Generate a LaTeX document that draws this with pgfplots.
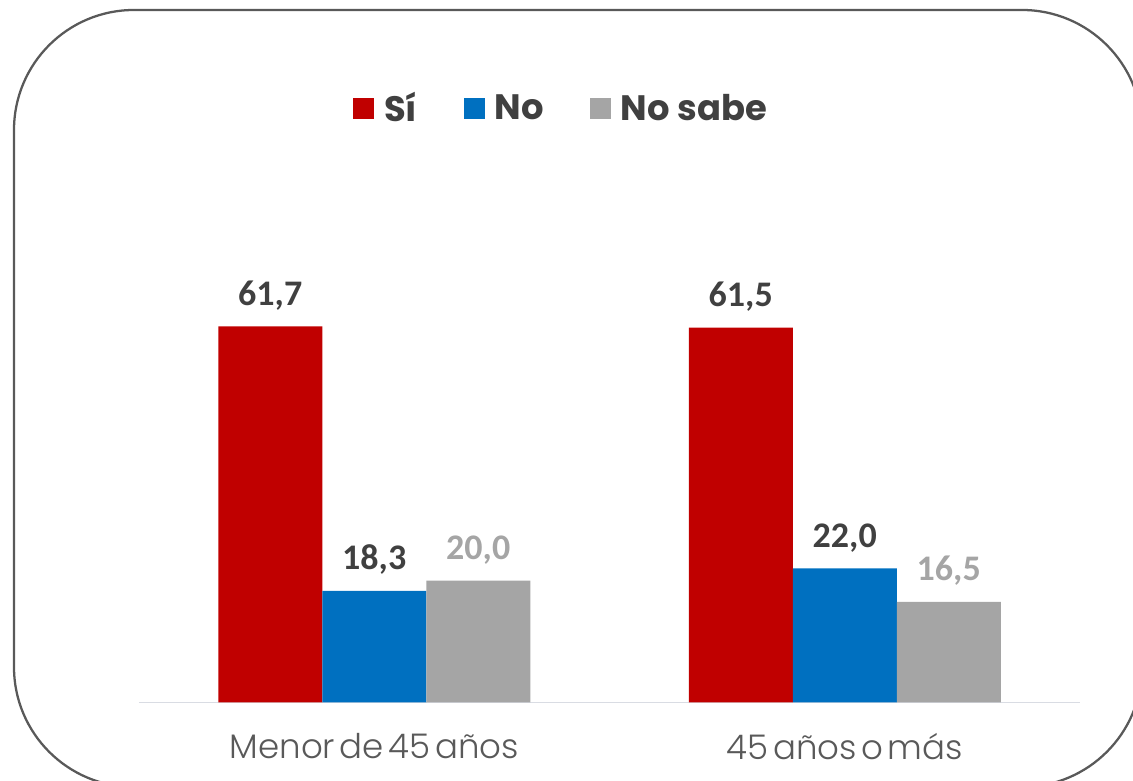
\documentclass[border=0pt]{standalone}
\usepackage{pgfplots}
\pgfplotsset{compat=1.18}
\usepackage{fontspec}
\setmainfont{Carlito}
\newfontfamily\legfont{Poppins}[UprightFont=* Bold]
\newfontfamily\catfont{Poppins}[UprightFont=* Light, WordSpace=0.5]
\newfontfamily\labfont{Carlito}[UprightFont=* Bold]
\definecolor{cred}{HTML}{C00000}
\definecolor{cblue}{HTML}{0070C0}
\definecolor{cgray}{HTML}{A5A5A5}
\definecolor{ctxt}{HTML}{404040}
\definecolor{ccat}{HTML}{595959}
\definecolor{cbase}{HTML}{D9DCE3}
\begin{document}
\begin{tikzpicture}
\useasboundingbox (0pt,0pt) rectangle (849.75pt,585.75pt);
\clip (0pt,0pt) rectangle (849.75pt,585.75pt);
\draw[line width=1.7pt, color=ccat, rounded corners=90pt] (10.5pt,578.25pt) rectangle (856.5pt,-4.5pt);
\begin{axis}[
  at={(104.25pt,58.9pt)}, anchor=south west,
  scale only axis, width=705.75pt, height=320pt,
  ybar=0pt, bar width=78pt,
  xmin=-0.5, xmax=1.5, ymin=0, ymax=70,
  xtick={0,1}, xticklabels={Menor de 45 años, 45 años o más},
  ytick=\empty,
  axis x line*=bottom, axis y line=none,
  x axis line style={cbase, line width=1.4pt},
  major tick length=0pt,
  xticklabel style={font=\catfont\fontsize{25.5}{30}\selectfont, text=ccat, yshift=-19.5pt},
  nodes near coords,
  /pgf/number format/.cd, use comma, fixed, fixed zerofill, precision=1, assume math mode=true,
  /pgfplots/.cd,
  every node near coord/.append style={font=\labfont\fontsize{27}{30}\selectfont, inner sep=0pt, yshift=15.75pt, anchor=base},
  legend columns=3,
  legend style={draw=none, at={(0.449,1.393)}, anchor=center,
    font=\legfont\fontsize{26.5}{30}\selectfont, text=ctxt,
    /tikz/every even column/.append style={column sep=33pt},
    inner sep=0pt},
  legend image code/.code={\fill[#1] (0pt,-7.875pt) rectangle (15.75pt,7.875pt); \path (21pt,0pt);},
]
\addplot[fill=cred, draw=none, every node near coord/.append style={text=ctxt}] coordinates {(0,61.7) (1,61.5)};
\addplot[fill=cblue, draw=none, every node near coord/.append style={text=ctxt}] coordinates {(0,18.3) (1,22.0)};
\addplot[fill=cgray, draw=none, every node near coord/.append style={text=cgray}] coordinates {(0,20.0) (1,16.5)};
\legend{Sí, No, No sabe}
\end{axis}
\end{tikzpicture}
\end{document}
